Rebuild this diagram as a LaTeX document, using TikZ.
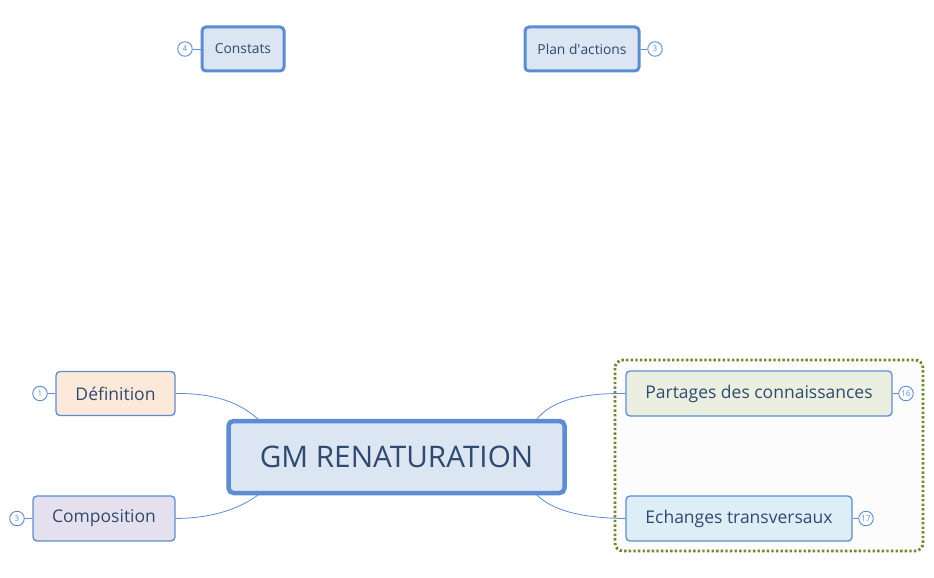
\documentclass[tikz,border=0pt]{standalone}
\usepackage{fontspec}
\setmainfont{Open Sans}
\begin{document}
\begin{tikzpicture}[x=1pt,y=-1pt,
  bd/.style={draw=bord,rounded corners=4pt,line width=1.3pt,text=txt,inner sep=0pt,font=\fontsize{17.5}{20}\selectfont},
  thk/.style={bd,line width=3pt,font=\fontsize{13.8}{16}\selectfont},
  cnt/.style={circle,draw=bord,line width=0.9pt,fill=white,minimum size=14.5pt,inner sep=0pt,text=bord,font=\fontsize{8}{9}\selectfont},
  link/.style={draw=bord,line width=0.8pt}]
\definecolor{bord}{HTML}{5B8DD6}
\definecolor{txt}{HTML}{2E4A70}
\useasboundingbox (0,0) rectangle (934,578);
\fill[white] (0,0) rectangle (934,578);
\draw[draw={rgb,255:red,110;green,139;blue,46},fill={rgb,255:red,252;green,252;blue,252},line width=2.8pt,dash pattern=on 2.4pt off 2.2pt,rounded corners=8pt] (615,360) rectangle (923,551);
% nodes
\node[thk,fill={rgb,255:red,220;green,229;blue,242},minimum width=82pt,minimum height=44pt] (con) at (243,49) {Constats};
\node[thk,fill={rgb,255:red,220;green,229;blue,242},minimum width=114pt,minimum height=44pt] (plan) at (582,49) {Plan d\textquotesingle actions};
\node[bd,fill={rgb,255:red,253;green,233;blue,218},minimum width=119pt,minimum height=44pt] (def) at (115.5,393.5) {Définition};
\node[bd,fill={rgb,255:red,229;green,224;blue,238},minimum width=142pt,minimum height=45pt] (comp) at (104,518.5) {Composition};
\node[bd,line width=4.5pt,rounded corners=5pt,fill={rgb,255:red,220;green,229;blue,242},minimum width=336pt,minimum height=72pt,font=\fontsize{29.7}{34}\selectfont] (gm) at (396.5,457) {GM RENATURATION};
\node[bd,fill={rgb,255:red,235;green,239;blue,223},minimum width=266pt,minimum height=45pt] (part) at (759,393.5) {Partages des connaissances};
\node[bd,fill={rgb,255:red,221;green,238;blue,246},minimum width=226pt,minimum height=45pt] (ech) at (739,518.5) {Echanges transversaux};
% counters
\node[cnt] (c1) at (185,49) {4};
\node[cnt] (c2) at (655,49) {3};
\node[cnt] (c3) at (40,393.5) {1};
\node[cnt] (c4) at (17,518.5) {3};
\node[cnt] (c5) at (906,393.5) {16};
\node[cnt] (c6) at (866,518.5) {17};
\draw[link] (c1) -- (con); \draw[link] (c2) -- (plan);
\draw[link] (c3) -- (def); \draw[link] (c4) -- (comp);
\draw[link] (c5) -- (part); \draw[link] (c6) -- (ech);
% connectors
\coordinate (g1) at (258,419); \coordinate (g2) at (258,495);
\coordinate (g3) at (537,419); \coordinate (g4) at (537,495);
\draw[link] (def.east) .. controls (215,393) and (240,403) .. (g1);
\draw[link] (comp.east) .. controls (215,518) and (240,508) .. (g2);
\draw[link] (part.west) .. controls (575,393) and (550,403) .. (g3);
\draw[link] (ech.west) .. controls (575,518) and (550,508) .. (g4);
\end{tikzpicture}
\end{document}
